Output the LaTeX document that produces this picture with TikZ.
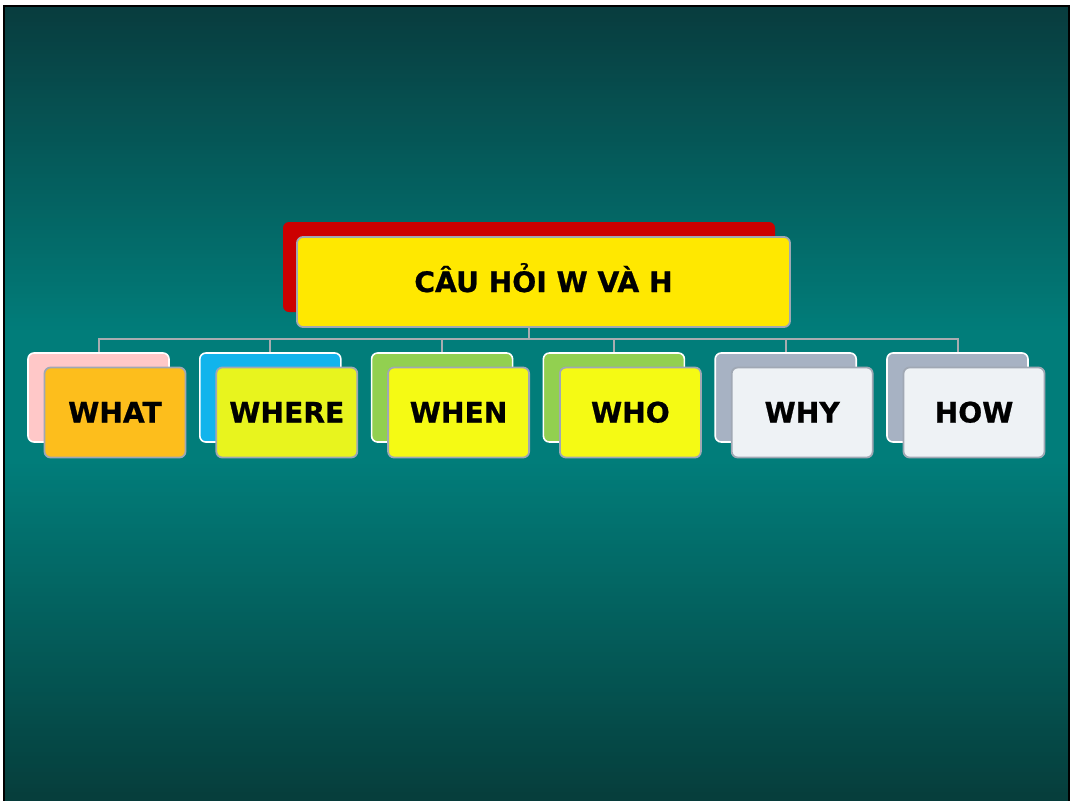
\documentclass[tikz,border=0pt]{standalone}
\usepackage{fontspec}
\setmainfont{DejaVu Sans}
\newfontfamily\heavyfont{DejaVu Sans Bold}[FakeBold=0.8]
\definecolor{bgtop}{HTML}{083C3E}
\definecolor{bgmid}{HTML}{017D7A}
\definecolor{bgbot}{HTML}{063D3B}
\definecolor{edgegray}{HTML}{A0A8B4}
\definecolor{conngray}{HTML}{A8ACB0}
\definecolor{rootred}{HTML}{CC0000}
\definecolor{rootyel}{HTML}{FFE800}
\definecolor{pinkb}{HTML}{FFC8C8}
\definecolor{orangef}{HTML}{FDBE1C}
\definecolor{blueb}{HTML}{12B4EC}
\definecolor{limef}{HTML}{E8F41E}
\definecolor{greenb}{HTML}{92D050}
\definecolor{yelf}{HTML}{F5FA14}
\definecolor{grayb}{HTML}{A7B2C3}
\definecolor{whitef}{HTML}{EEF2F5}
\begin{document}
\begin{tikzpicture}[x=1pt,y=-1pt,
  backbox/.style={draw=white, line width=1.6pt, rounded corners=6pt,
    minimum width=141pt, minimum height=89pt, inner sep=0pt},
  frontbox/.style={draw=edgegray, line width=1.8pt, rounded corners=6pt,
    minimum width=141pt, minimum height=90pt, inner sep=0pt,
    text height=20pt, text depth=0pt,
    font=\heavyfont\fontsize{28.2}{28.2}\selectfont, text=black},
  rootback/.style={fill=rootred, rounded corners=6pt,
    minimum width=492pt, minimum height=90pt, inner sep=0pt},
  rootfront/.style={draw=edgegray, line width=1.8pt, fill=rootyel, rounded corners=6pt,
    minimum width=493pt, minimum height=90pt, inner sep=0pt,
    text height=20pt, text depth=0pt,
    font=\heavyfont\fontsize{28.2}{28.2}\selectfont, text=black},
  conn/.style={draw=conngray, line width=2pt}]
\useasboundingbox (0,0) rectangle (1080,801);
\fill[white] (0,0) rectangle (1080,801);
% background gradient in strips
\foreach \k in {0,...,81} {
  \pgfmathsetmacro\ya{6+4*\k}
  \pgfmathsetmacro\p{100*(\k/81)}
  \fill[bgmid!\p!bgtop] (4,\ya) rectangle (1069,\ya+4.5);
}
\fill[bgmid] (4,333) rectangle (1069,460.5);
\foreach \k in {0,...,85} {
  \pgfmathsetmacro\ya{460+4*\k}
  \pgfmathsetmacro\p{100*(1-\k/85)}
  \fill[bgmid!\p!bgbot] (4,\ya) rectangle (1069,\ya+4.5);
}
\draw[black, line width=2pt] (4,812) -- (4,6) -- (1069,6) -- (1069,812);

% root
\node[rootback] (rootb) at (529,267) {};
% children back boxes
\node[backbox, fill=pinkb]  (b1) at (98.5,397.5) {};
\node[backbox, fill=blueb]  (b2) at (270.3,397.5) {};
\node[backbox, fill=greenb] (b3) at (442.1,397.5) {};
\node[backbox, fill=greenb] (b4) at (613.9,397.5) {};
\node[backbox, fill=grayb]  (b5) at (785.7,397.5) {};
\node[backbox, fill=grayb]  (b6) at (957.5,397.5) {};
% connectors
\draw[conn] (rootb.south) -- ++(0,27) coordinate (hub);
\foreach \i in {1,...,6} {\draw[conn] (hub) -| (b\i.north);}
% front boxes
\node[rootfront] (root) at (543.5,282) {CÂU HỎI W VÀ H};
\node[frontbox, fill=orangef] (f1) at (115,412.5) {WHAT};
\node[frontbox, fill=limef]   (f2) at (286.8,412.5) {WHERE};
\node[frontbox, fill=yelf]    (f3) at (458.6,412.5) {WHEN};
\node[frontbox, fill=yelf]    (f4) at (630.4,412.5) {WHO};
\node[frontbox, fill=whitef]  (f5) at (802.2,412.5) {WHY};
\node[frontbox, fill=whitef]  (f6) at (974,412.5) {HOW};
\end{tikzpicture}
\end{document}
